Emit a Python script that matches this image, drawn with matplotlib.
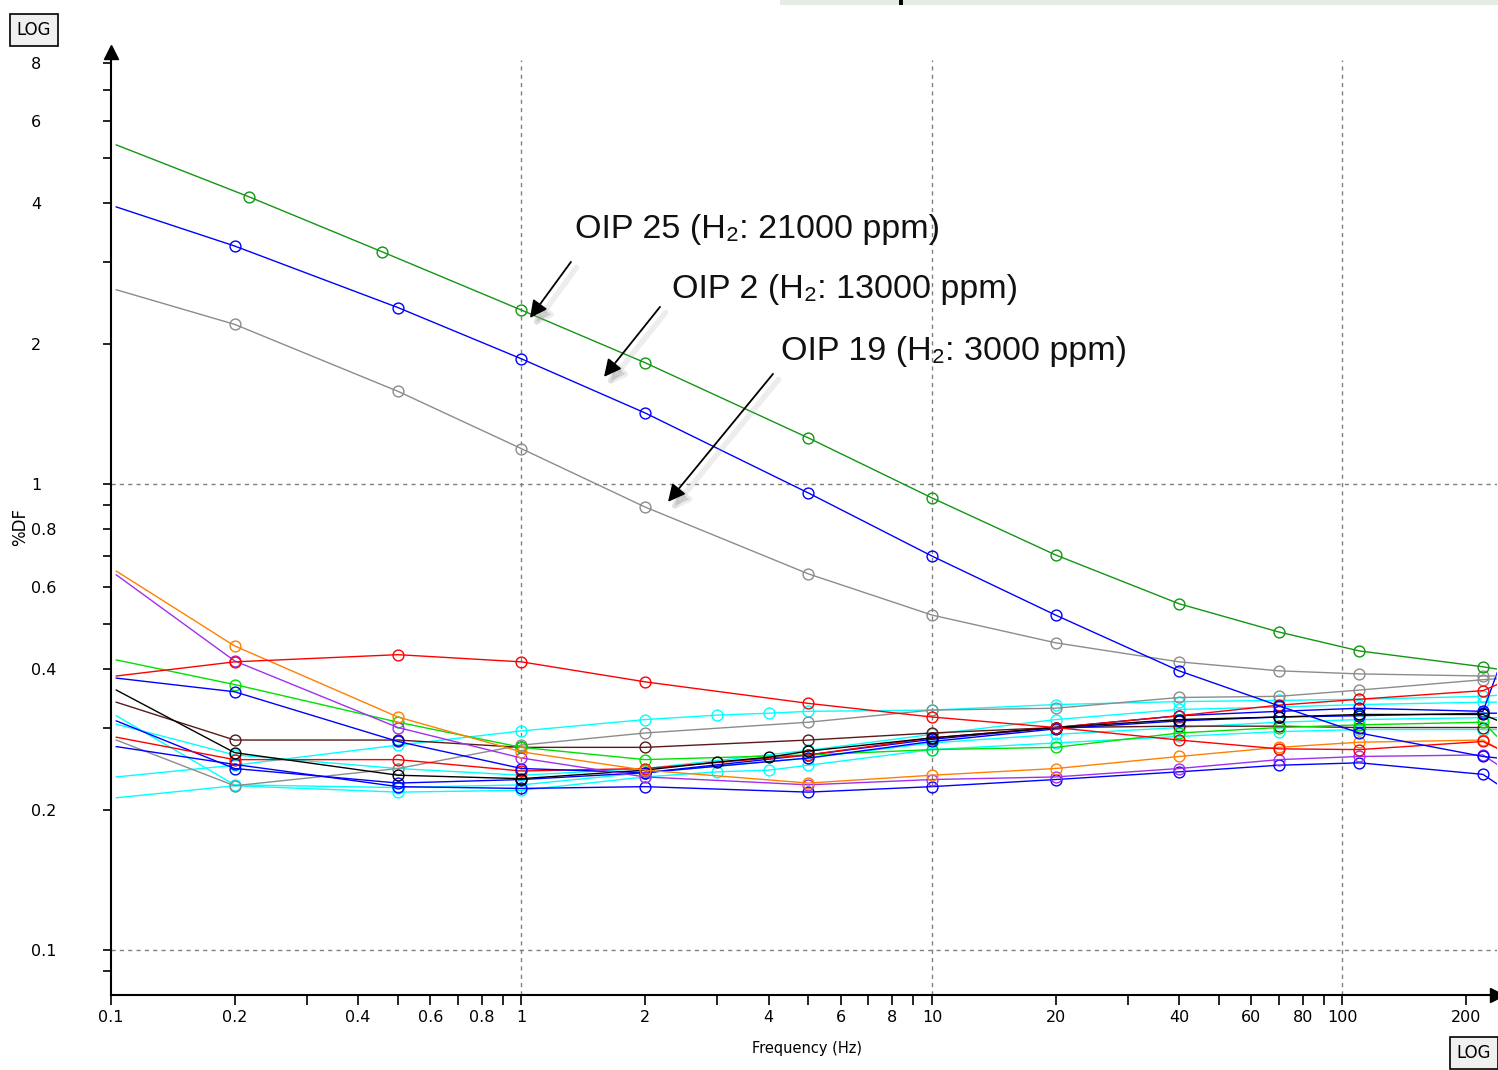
import matplotlib.pyplot as plt
from matplotlib import patheffects as pe
from matplotlib.patches import Rectangle

# frequency grids (Hz)
f_std = [0.103, 0.2, 0.5, 1, 2, 5, 10, 20, 40, 70, 110, 220, 240]
f_fine = [0.103, 0.2, 0.5, 1, 2, 3, 4, 5, 10, 20, 40, 70, 110, 220, 240]
f_oip25 = [0.103, 0.217, 0.457, 1, 2, 5, 10, 20, 40, 70, 110, 220, 240]

# %DF values, the three labelled oils
oip25 = [5.34, 4.13, 3.15, 2.36, 1.82, 1.255, 0.933, 0.704, 0.553, 0.481, 0.438, 0.405, 0.40]
oip2 = [3.93, 3.24, 2.39, 1.855, 1.42, 0.956, 0.70, 0.523, 0.397, 0.334, 0.292, 0.26, 0.258]
oip19 = [2.61, 2.20, 1.58, 1.19, 0.892, 0.641, 0.523, 0.456, 0.415, 0.397, 0.391, 0.387, 0.387]

# the other oils (low cluster)
orange = [0.65, 0.449, 0.316, 0.266, 0.243, 0.228, 0.237, 0.245, 0.26, 0.272, 0.279, 0.282, 0.27]
purple = [0.638, 0.417, 0.30, 0.258, 0.235, 0.226, 0.232, 0.235, 0.245, 0.256, 0.26, 0.262, 0.249]
red_a = [0.387, 0.415, 0.43, 0.415, 0.376, 0.338, 0.316, 0.30, 0.282, 0.27, 0.269, 0.28, 0.27]
red_b = [0.286, 0.256, 0.256, 0.242, 0.245, 0.262, 0.285, 0.30, 0.318, 0.335, 0.345, 0.36, 0.372]
lime = [0.419, 0.371, 0.308, 0.272, 0.256, 0.262, 0.269, 0.272, 0.292, 0.30, 0.304, 0.308, 0.285]
blue_a = [0.383, 0.358, 0.28, 0.245, 0.24, 0.258, 0.28, 0.298, 0.31, 0.316, 0.318, 0.322, 0.322]
blue_b = [0.31, 0.245, 0.228, 0.232, 0.24, 0.262, 0.283, 0.30, 0.318, 0.325, 0.33, 0.325, 0.40]
blue_c = [0.273, 0.25, 0.224, 0.222, 0.224, 0.218, 0.224, 0.232, 0.241, 0.249, 0.252, 0.238, 0.226]
brown = [0.34, 0.282, 0.282, 0.272, 0.272, 0.282, 0.292, 0.30, 0.302, 0.302, 0.30, 0.30, 0.30]
gray_b = [0.282, 0.225, 0.245, 0.275, 0.292, 0.308, 0.327, 0.33, 0.348, 0.35, 0.361, 0.38, 0.382]
cyan_c = [0.318, 0.226, 0.223, 0.226, 0.24, 0.258, 0.278, 0.29, 0.30, 0.308, 0.312, 0.315, 0.315]
cyan_d = [0.305, 0.262, 0.245, 0.237, 0.245, 0.268, 0.29, 0.312, 0.328, 0.332, 0.336, 0.34, 0.34]
black = [0.361, 0.265, 0.237, 0.233, 0.243, 0.253, 0.259, 0.267, 0.285, 0.30, 0.312, 0.316, 0.32, 0.32, 0.31]
cyan_a = [0.235, 0.249, 0.275, 0.295, 0.312, 0.319, 0.322, 0.325, 0.327, 0.336, 0.341, 0.343, 0.345, 0.35, 0.352]
cyan_b = [0.212, 0.225, 0.218, 0.22, 0.235, 0.241, 0.243, 0.249, 0.269, 0.278, 0.287, 0.294, 0.297, 0.297, 0.297]

x_major = [0.1, 0.2, 0.4, 0.6, 0.8, 1, 2, 4, 6, 8, 10, 20, 40, 60, 80, 100, 200]
x_minor = [0.3, 0.5, 0.7, 0.9, 3, 5, 7, 9, 30, 50, 70, 90]
y_major = [0.1, 0.2, 0.4, 0.6, 0.8, 1, 2, 4, 6, 8]
y_minor = [0.09, 0.3, 0.5, 0.7, 0.9, 3, 5, 7]

labels = [
    ("OIP 25 (H\u2082: 21000 ppm)", (1.35, 3.51), (1.049, 2.27), (1.32, 2.995)),
    ("OIP 2 (H\u2082: 13000 ppm)", (2.325, 2.61), (1.589, 1.697), (2.175, 2.398)),
    ("OIP 19 (H\u2082: 3000 ppm)", (4.29, 1.92), (2.275, 0.915), (4.10, 1.722)),
]

series = [
    (f_std, cyan_c, "#00ffff"), (f_std, cyan_d, "#00ffff"),
    (f_fine, cyan_b, "#00ffff"), (f_fine, cyan_a, "#00ffff"),
    (f_std, gray_b, "#8c8c8c"), (f_std, blue_c, "#0000ff"),
    (f_std, blue_b, "#0000ff"), (f_std, brown, "#5a1a1a"),
    (f_std, lime, "#00e000"), (f_std, red_b, "#ff0000"),
    (f_std, blue_a, "#0000ff"), (f_fine, black, "#000000"),
    (f_std, purple, "#a030f0"), (f_std, orange, "#ff8000"),
    (f_std, red_a, "#ff0000"),
    (f_std, oip19, "#8c8c8c"), (f_std, oip2, "#0000ff"),
    (f_oip25, oip25, "#129612"),
]

fig = plt.figure(figsize=(14.98, 10.70), dpi=100)
ax = fig.add_axes([111 / 1498, 1 - 995 / 1070, (1497 - 111) / 1498, (995 - 52) / 1070])
ax.set_xscale("log")
ax.set_yscale("log")
ax.set_xlim(0.1, 238)
ax.set_ylim(0.08, 8.45)

for xv in [1, 10, 100]:
    ax.axvline(xv, ymax=0.991, color="#808080", lw=1, ls=(0, (3, 3)), zorder=1)
for yv in [0.1, 1]:
    ax.axhline(yv, color="#808080", lw=1, ls=(0, (3, 3)), zorder=1)

for fx, vals, col in series:
    ax.plot(fx, vals, color=col, lw=1.0, marker="o", ms=7.8, mfc="none",
            mew=1.0, markevery=slice(1, -1), zorder=3)

# axes look: only left/bottom with arrow heads
for s in ["top", "right"]:
    ax.spines[s].set_visible(False)
for s in ["left", "bottom"]:
    ax.spines[s].set_linewidth(1.5)
ax.plot([0], [1], marker="^", ms=10, color="black", transform=ax.transAxes, clip_on=False)
ax.plot([1], [0], marker=">", ms=10, color="black", transform=ax.transAxes, clip_on=False)

ax.set_xticks(x_major)
ax.set_xticklabels([f"{v:g}" for v in x_major])
ax.set_xticks(x_minor, minor=True)
ax.set_xticklabels([], minor=True)
ax.set_yticks(y_major)
ax.set_yticklabels([f"{v:g}" for v in y_major])
ax.set_yticks(y_minor, minor=True)
ax.set_yticklabels([], minor=True)
ax.tick_params(axis="x", which="both", direction="out", length=7.2, width=1.2,
               pad=3.6, labelsize=11.5, colors="black")
ax.tick_params(axis="y", which="both", direction="out", length=5.8, width=1.2,
               pad=51.8, labelsize=11.5, colors="black")
for lab in ax.get_yticklabels():
    lab.set_horizontalalignment("left")

fig.text(807 / 1498, 1 - 1048 / 1070, "Frequency (Hz)", ha="center", va="center",
         fontsize=10.5)
fig.text(20 / 1498, 1 - 527 / 1070, "%DF", ha="center", va="center",
         rotation=90, fontsize=12)

# annotations with soft shadowed arrows
shadow = [pe.SimpleLineShadow(offset=(4, -4), shadow_color="#a0a0a0", alpha=0.18, linewidth=4),
          pe.SimplePatchShadow(offset=(4, -4), shadow_rgbFace="#909090", alpha=0.3),
          pe.Normal()]
for txt, tpos, tip, tail in labels:
    ax.text(tpos[0], tpos[1], txt, ha="left", va="center", fontsize=24.5,
            family=["Liberation Sans", "DejaVu Sans"], color="#111111", zorder=5)
    ax.annotate("", xy=tip, xytext=tail,
                arrowprops=dict(arrowstyle="-|>", color="black", lw=1.3,
                                mutation_scale=26, shrinkA=0, shrinkB=0,
                                path_effects=shadow), zorder=5)

# LOG buttons
box = dict(boxstyle="square,pad=0.4", fc="#f0f0f0", ec="black", lw=1.2)
fig.text(34 / 1498, 1 - 30 / 1070, "LOG", ha="center", va="center", fontsize=12, bbox=box)
fig.text(1474 / 1498, 1 - 1053 / 1070, "LOG", ha="center", va="center", fontsize=12, bbox=box)

# strip cut off at top right
fig.patches.append(Rectangle((780 / 1498, 1 - 5 / 1070), 718 / 1498, 5 / 1070,
                             transform=fig.transFigure, fc="#e4ece4", ec="none"))
fig.patches.append(Rectangle((899 / 1498, 1 - 5 / 1070), 4 / 1498, 5 / 1070,
                             transform=fig.transFigure, fc="black", ec="none"))

fig.savefig("out.png", dpi=100)
